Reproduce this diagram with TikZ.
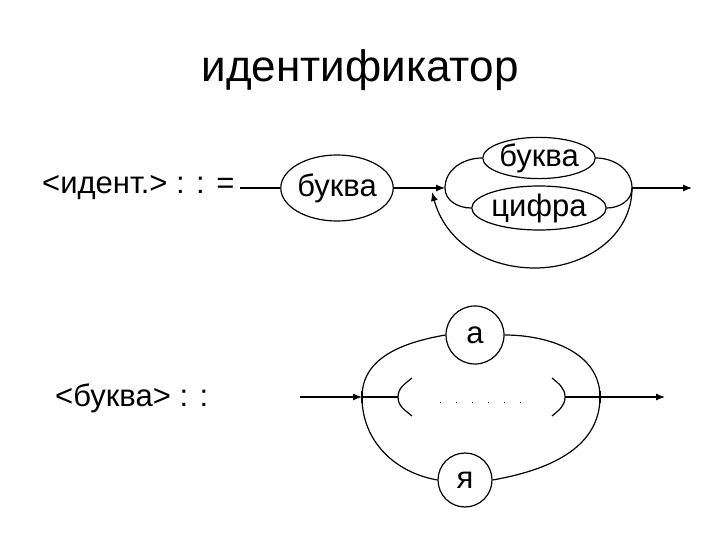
\documentclass[tikz,border=0pt]{standalone}
\usepackage{fontspec}
\setmainfont{Liberation Sans}
\usetikzlibrary{shapes.geometric,arrows.meta}
\begin{document}
\begin{tikzpicture}[x=1pt,y=-1pt,
  ov/.style={draw,ellipse,line width=1.2pt,inner sep=0pt,font=\fontsize{31}{33}\selectfont},
  lab/.style={font=\fontsize{31}{33}\selectfont,inner sep=0pt},
  ln/.style={line width=1.2pt},
  ar/.style={line width=1.2pt,-{Latex[length=9pt,width=7pt]}}]
\useasboundingbox (0,0) rectangle (720,540);
\node[font=\fontsize{44}{46}\selectfont] (title) at (360,70) {идентификатор};
% top diagram
\node[lab,anchor=west] (id) at (42,188) {<идент.> : : =};
\node[ov,minimum width=100pt,minimum height=66pt] (b1) at (337,188) {буква};
\node[ov,minimum width=108pt,minimum height=40pt] (b2) at (539,158) {буква};
\node[ov,minimum width=108pt,minimum height=44pt] (c) at (539,208) {цифра};
\coordinate (j1) at (445,188);
\coordinate (j2) at (632,188);
\coordinate (e1) at (692,188);
\coordinate (s1) at (240,188);
\draw[ln] (s1) -- (b1.west);
\draw[ar] (b1.east) -- (j1);
\draw[ln] (j1) to[out=90,in=180] (b2.west);
\draw[ln] (j1) to[out=-90,in=180] (c.west);
\draw[ln] (b2.east) to[out=0,in=90] (j2);
\draw[ln] (c.east) to[out=0,in=-90] (j2);
\draw[ar] (j2) -- (e1);
\coordinate (lb) at (535,268);
\draw[ar] (j2) to[out=-90,in=0] (lb) to[out=180,in=-75] (432,192);
% bottom diagram
\node[lab,anchor=west] (bk) at (55,398) {<буква> : :};
\coordinate (k1) at (362,397);
\coordinate (k2) at (600,397);
\coordinate (k3) at (665,397);
\coordinate (k0) at (300,397);
\node[ov,circle,minimum size=58pt] (a) at (475,335) {а};
\node[ov,circle,minimum size=54pt] (ya) at (465,480) {я};
\draw[ar] (k0) -- (k1);
\draw[ln] (k1) to[out=90,in=190] (a.west);
\draw[ln] (a.east) to[out=0,in=90] (k2);
\draw[ln] (k1) to[out=-90,in=170] (ya.west);
\draw[ln] (ya.east) to[out=10,in=-90] (k2);
\draw[ln] (k1) -- (398,397);
\draw[ln] (412,378) to[out=220,in=90] (398,397) to[out=-90,in=140] (412,416);
\draw[ln] (552,378) to[out=-40,in=90] (565,397) to[out=-90,in=40] (552,416);
\draw[ln] (565,397) -- (k2);
\draw[line width=1pt,dash pattern=on 1pt off 15pt] (440,402) -- (522,402);
\draw[ar] (k2) -- (k3);
\draw[ln] (k1) ++(0,-6) -- ++(0,12);
\draw[ln] (k2) ++(0,-6) -- ++(0,12);
\end{tikzpicture}
\end{document}
